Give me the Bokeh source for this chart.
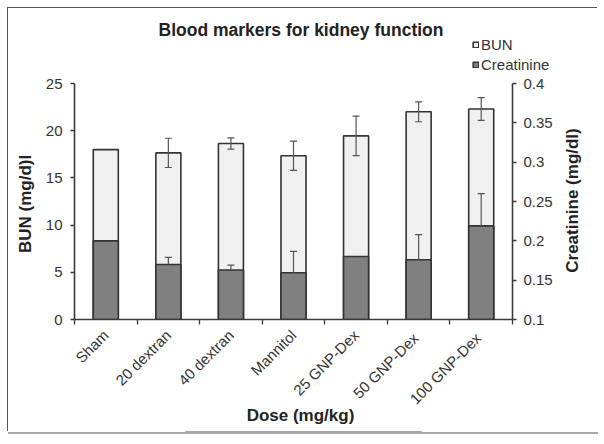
import math
from bokeh.plotting import figure
from bokeh.layouts import column
from bokeh.models import (Range1d, LinearAxis, FixedTicker, ColumnDataSource,
                          Whisker, TeeHead, Legend, LegendItem, Label)
from bokeh.embed import file_html
from bokeh.resources import INLINE

# ---- data ----
doses = ["Sham", "20 dextran", "40 dextran", "Mannitol", "25 GNP-Dex",
         "50  GNP-Dex", "100  GNP-Dex"]
bun = [18.0, 17.65, 18.65, 17.35, 19.45, 22.0, 22.3]
bun_err = [0, 1.55, 0.6, 1.55, 2.1, 1.05, 1.2]
creat = [0.200, 0.170, 0.163, 0.1595, 0.180, 0.176, 0.219]
creat_err = [0, 0.009, 0.006, 0.027, 0, 0.032, 0.041]
bun_ticks = [0, 5, 10, 15, 20, 25]
creat_ticks = [0.1, 0.15, 0.2, 0.25, 0.3, 0.35, 0.4]
creat_tick_labels = ["0.1", "0.15", "0.2", "0.25", "0.3", "0.35", "0.4"]
series = ["BUN", "Creatinine"]
title_text = "Blood markers for kidney function"
x_title = "Dose (mg/kg)"
y_title = "BUN  (mg/d)l"
y2_title = "Creatinine (mg/dl)"

FONT = "Liberation Sans"
LIGHT, DARK, EDGE = "#f0f0f0", "#808080", "#333333"
W, H = 590, 424
n = len(doses)
xs = [i + 0.5 for i in range(n)]

p = figure(width=W, height=H, x_range=Range1d(0, n), y_range=Range1d(0, 25),
           output_backend="svg", toolbar_location=None,
           min_border_left=66, min_border_right=86, min_border_top=75,
           min_border_bottom=113)
p.extra_y_ranges = {"creat": Range1d(0.1, 0.4)}
p.grid.visible = False
p.outline_line_color = None
p.background_fill_color = None
p.border_fill_color = None
p.styles = {"box-shadow": "-1px -1px 0 0 #555, 0 2px 0 0 #aaa"}

src = ColumnDataSource(dict(x=xs, bun=bun, creat=creat))
r_bun = p.vbar(x="x", top="bun", bottom=0, width=0.4, source=src,
               fill_color=LIGHT, line_color=EDGE, line_width=1.6)
r_cr = p.vbar(x="x", top="creat", bottom=0.1, width=0.4, source=src,
              y_range_name="creat", fill_color=DARK, line_color=EDGE,
              line_width=1.6)

# error bars
ib = [i for i in range(n) if bun_err[i] > 0]
src_b = ColumnDataSource(dict(x=[xs[i] for i in ib],
                              lo=[bun[i] - bun_err[i] for i in ib],
                              hi=[bun[i] + bun_err[i] for i in ib]))
wb = Whisker(source=src_b, base="x", lower="lo", upper="hi", dimension="height",
             line_color="#555555", line_width=1.2,
             upper_head=TeeHead(size=7, line_color="#555555", line_width=1.2),
             lower_head=TeeHead(size=7, line_color="#555555", line_width=1.2))
wb.level = "overlay"
p.add_layout(wb)

ic = [i for i in range(n) if creat_err[i] > 0]
src_c = ColumnDataSource(dict(x=[xs[i] for i in ic],
                              lo=[creat[i] for i in ic],
                              hi=[creat[i] + creat_err[i] for i in ic]))
wc = Whisker(source=src_c, base="x", lower="lo", upper="hi", dimension="height",
             y_range_name="creat", line_color="#555555", line_width=1.2,
             upper_head=TeeHead(size=7, line_color="#555555", line_width=1.2),
             lower_head=None)
wc.level = "overlay"
p.add_layout(wc)

# axes
ax = p.xaxis[0]
ax.ticker = FixedTicker(ticks=xs, minor_ticks=list(range(n + 1)))
ax.major_label_overrides = {x: d for x, d in zip(xs, doses)}
ax.major_label_orientation = math.pi / 4
ax.major_tick_in = 0
ax.major_tick_out = 0
ax.minor_tick_in = 0
ax.minor_tick_out = 5
ax.major_label_standoff = 8

ly = p.yaxis[0]
ly.ticker = FixedTicker(ticks=bun_ticks)
ly.axis_label = y_title
ly.major_tick_in = 0
ly.major_tick_out = 4
ly.minor_tick_out = 0
ly.minor_tick_in = 0
ly.major_label_standoff = 8
ly.axis_label_standoff = 8

ry = LinearAxis(y_range_name="creat", ticker=FixedTicker(ticks=creat_ticks),
                major_label_overrides={t: s for t, s in zip(creat_ticks, creat_tick_labels)})
ry.major_tick_in = 0
ry.major_tick_out = 4
ry.minor_tick_in = 0
ry.minor_tick_out = 0
ry.major_label_standoff = 7
p.add_layout(ry, "right")

for a in [ax, ly, ry]:
    a.axis_line_color = "#3a3a3a"
    a.axis_line_width = 1.6
    a.major_tick_line_color = "#3a3a3a"
    a.minor_tick_line_color = "#3a3a3a"
    a.major_tick_line_width = 1.3
    a.minor_tick_line_width = 1.3
    a.major_label_text_font = FONT
    a.major_label_text_font_size = "15px"
    a.major_label_text_color = "#333333"
    a.axis_label_text_font = FONT
    a.axis_label_text_font_size = "17px"
    a.axis_label_text_font_style = "bold"
    a.axis_label_text_color = "#222222"

# ---- a same-sized transparent figure under the main one carries the texts
# that sit outside the plotting frame (title, legend, x and right-axis titles)
q = figure(width=W, height=H, x_range=Range1d(0, 1), y_range=Range1d(100, 101),
           output_backend="svg", toolbar_location=None,
           x_axis_location=None, y_axis_location=None,
           min_border=0, min_border_left=0, min_border_right=0,
           min_border_top=0, min_border_bottom=0)
q.grid.visible = False
q.outline_line_color = None
q.background_fill_color = None
q.border_fill_color = None

# stop the column from aligning the two frames (fallback: shift texts)
dx = 0
try:
    p.frame_align = False
    q.frame_align = False
except Exception:
    dx = -66


def txt(x, y, text, size, angle=0.0):
    q.add_layout(Label(x=x + dx, y=y, x_units="screen", y_units="screen",
                       text=text, angle=angle, text_align="center",
                       text_baseline="middle", text_font=FONT,
                       text_font_size=size, text_font_style="bold",
                       text_color="#222222"))


txt(292.5, H - 21.5, title_text, "17.5px")
txt(292, H - 407, x_title, "17px")
txt(564, H - 192, y2_title, "17px", angle=math.pi / 2)

# legend proxies share the source but lie outside this figure's y range
g_bun = q.vbar(x="x", top="bun", bottom=0, width=0.4, source=src,
               fill_color=LIGHT, line_color=EDGE, line_width=1.6)
g_cr = q.vbar(x="x", top="creat", bottom=0, width=0.4, source=src,
              fill_color=DARK, line_color=EDGE, line_width=1.6)
legend = Legend(items=[LegendItem(label=series[0], renderers=[g_bun]),
                       LegendItem(label=series[1], renderers=[g_cr])],
                location=(464 + dx, H - 26 - 40), padding=0, margin=0, spacing=0,
                label_height=20, glyph_width=7, glyph_height=7, label_standoff=2,
                border_line_color=None, background_fill_alpha=0,
                label_text_font=FONT, label_text_font_size="15px",
                label_text_color="#333333")
q.add_layout(legend)

q.margin = (8, 0, 0, 8)
p.margin = (-H, 0, 0, 8)

layout = column(q, p)
open("out.html", "w").write(file_html(layout, INLINE))
